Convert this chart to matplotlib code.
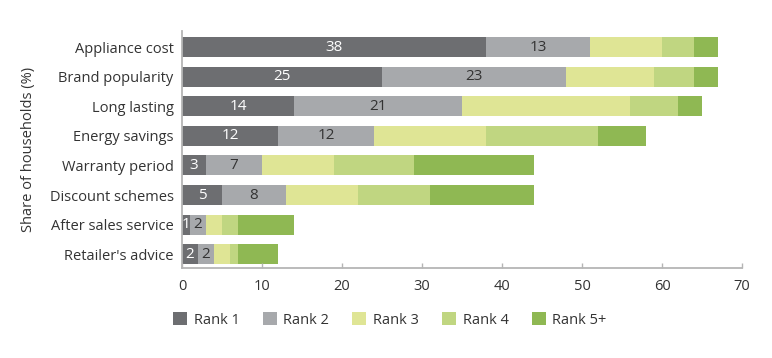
import matplotlib.pyplot as plt
import numpy as np

plt.rcParams["font.family"] = ["Open Sans", "DejaVu Sans"]

factors = [
    "Appliance cost",
    "Brand popularity",
    "Long lasting",
    "Energy savings",
    "Warranty period",
    "Discount schemes",
    "After sales service",
    "Retailer's advice",
]
rank_names = ["Rank 1", "Rank 2", "Rank 3", "Rank 4", "Rank 5+"]
rank1 = [38, 25, 14, 12, 3, 5, 1, 2]
rank2 = [13, 23, 21, 12, 7, 8, 2, 2]
rank3 = [9, 11, 21, 14, 9, 9, 2, 2]
rank4 = [4, 5, 6, 14, 10, 9, 2, 1]
rank5 = [3, 3, 3, 6, 15, 13, 7, 5]

colors = ["#6d6e71", "#a7a9ac", "#dfe595", "#c0d681", "#8fb853"]
label_colors = ["white", "#333333"]
text_color = "#333333"
spine_color = "#b5b5b5"

fig = plt.figure(figsize=(7.72, 3.58), dpi=100)
ax = fig.add_axes([0.2358, 0.251, 0.7255, 0.662])

y = np.arange(len(factors))
left = np.zeros(len(factors))
series = [rank1, rank2, rank3, rank4, rank5]
for i, (name, vals) in enumerate(zip(rank_names, series)):
    vals = np.array(vals, dtype=float)
    ax.barh(y, vals, left=left, height=0.675, color=colors[i], label=name)
    if i < 2:
        for yy, l, v in zip(y, left, vals):
            ax.text(l + v / 2, yy, f"{int(v)}", ha="center", va="center",
                    fontsize=11, color=label_colors[i])
    left += vals

ax.set_xlim(0, 70)
ax.set_ylim(7.47, -0.54)
ax.set_xticks(range(0, 71, 10))
ax.set_yticks(y)
ax.set_yticklabels(factors)
ax.set_ylabel("Share of households (%)", fontsize=10.5, color=text_color, labelpad=10)

for s in ["top", "right"]:
    ax.spines[s].set_visible(False)
for s in ["left", "bottom"]:
    ax.spines[s].set_color(spine_color)
    ax.spines[s].set_linewidth(1.3)
ax.tick_params(axis="x", direction="in", length=3.5, width=1.0, color=spine_color,
               labelsize=10.5, labelcolor=text_color, pad=8)
ax.tick_params(axis="y", length=0, labelsize=10.5, labelcolor=text_color, pad=6)

fig.legend(loc="center", bbox_to_anchor=(0.505, 0.106), ncol=5, frameon=False,
           fontsize=10.5, handlelength=0.95, handleheight=0.95, handletextpad=0.45,
           columnspacing=1.6, labelcolor=text_color)

fig.savefig("out.png", dpi=100)
